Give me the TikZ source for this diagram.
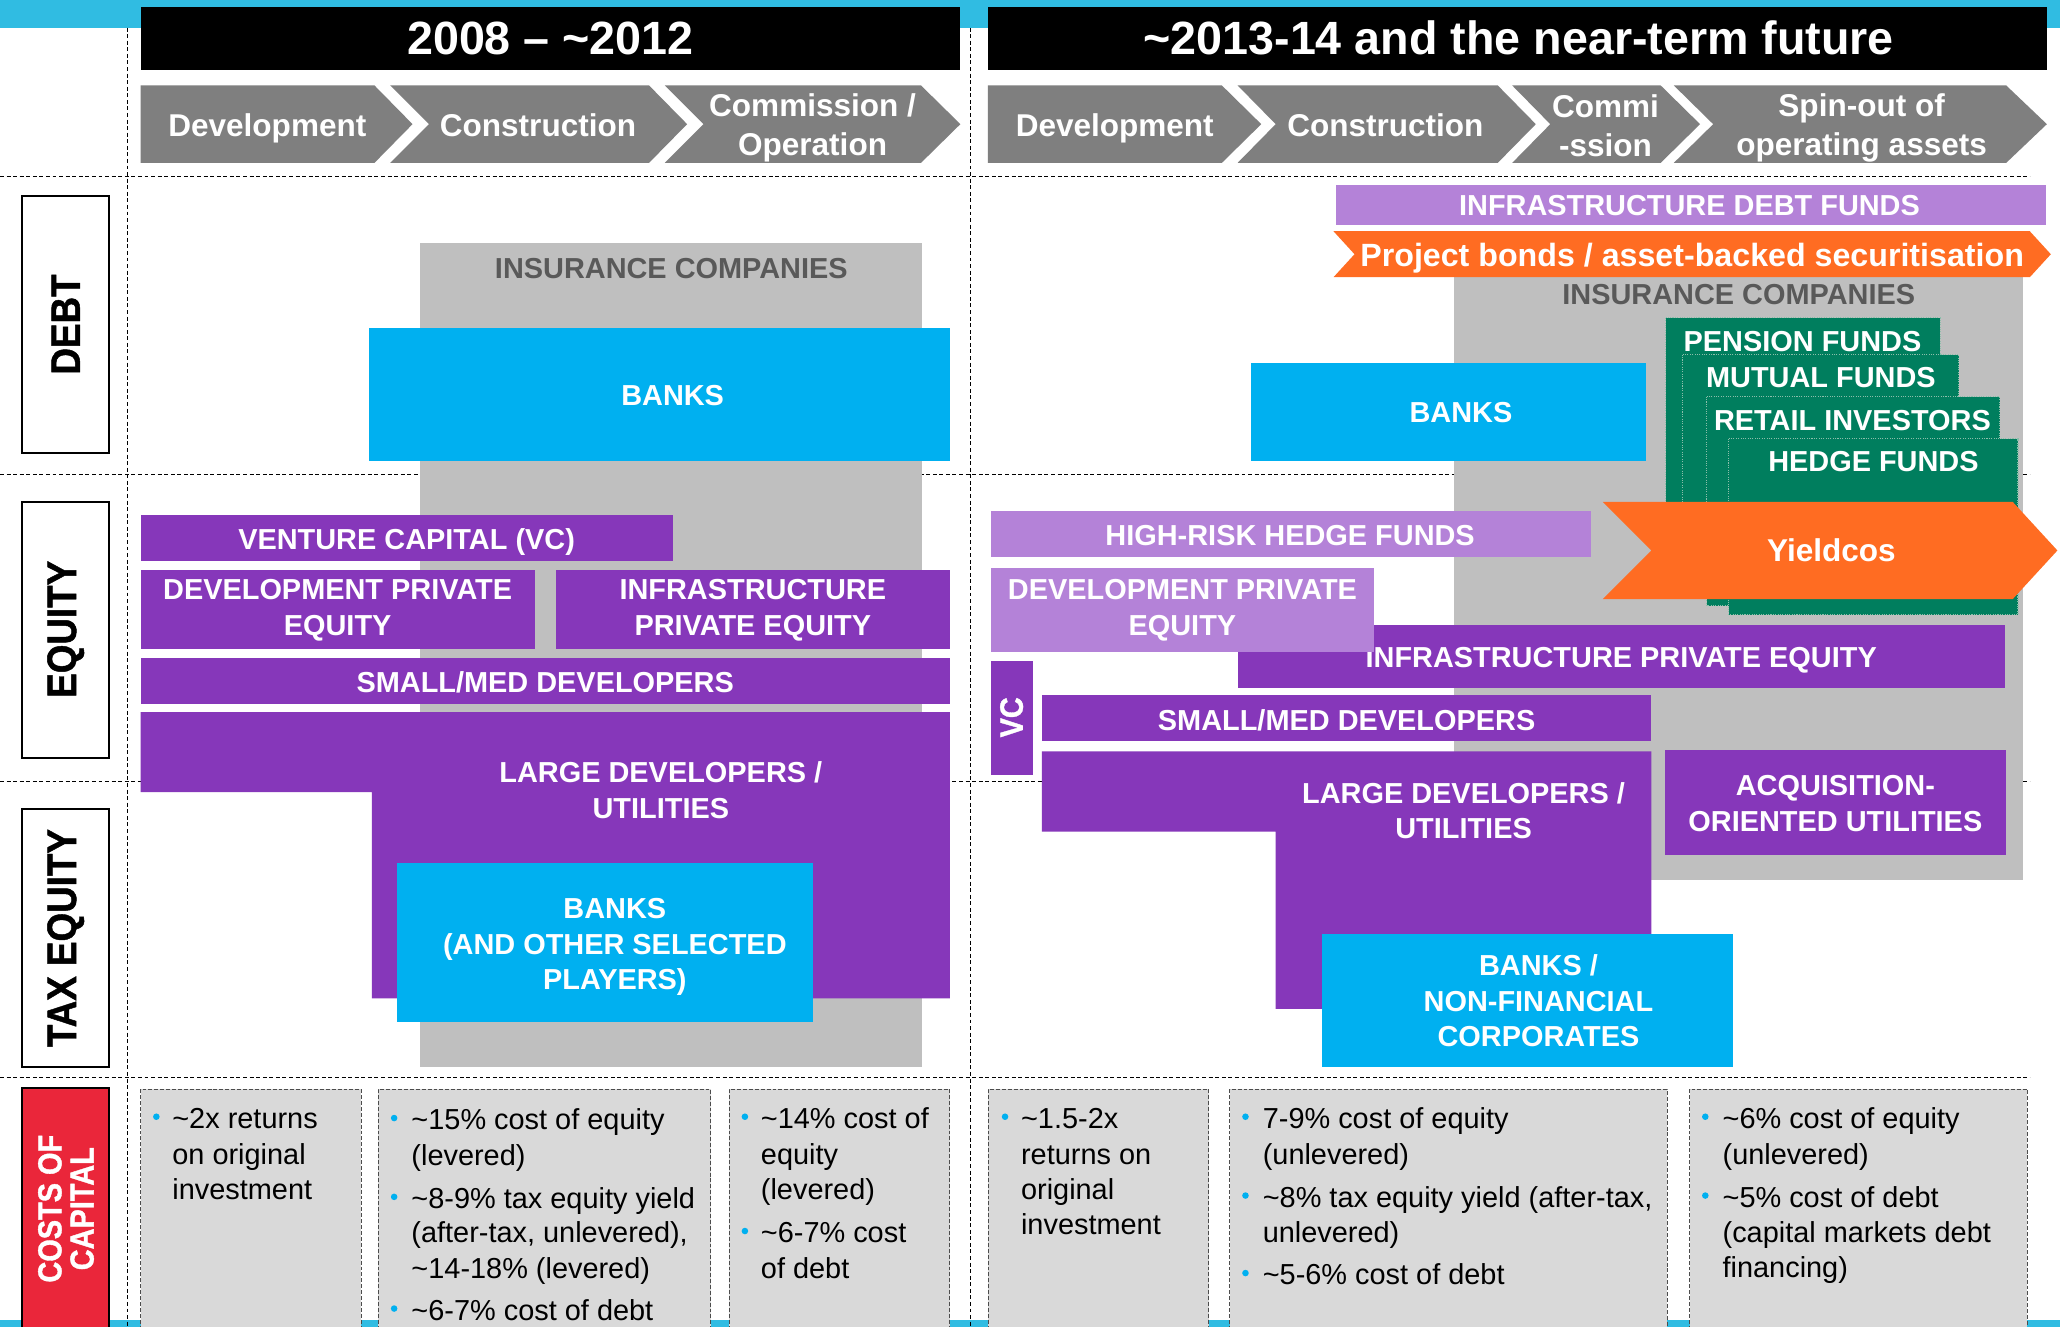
\documentclass[tikz,border=0pt]{standalone}
\usepackage{fontspec}
\setmainfont{Liberation Sans}
\newfontfamily\heavyfont[FakeBold=1.2]{Liberation Sans Bold}
\definecolor{cyanb}{RGB}{0,176,240}
\definecolor{purp}{RGB}{134,55,186}
\definecolor{lpurp}{RGB}{180,130,216}
\definecolor{orng}{RGB}{255,108,34}
\definecolor{grnb}{RGB}{0,126,94}
\definecolor{grnline}{RGB}{140,190,170}
\definecolor{greyb}{RGB}{191,191,191}
\definecolor{chevg}{RGB}{127,127,127}
\definecolor{costg}{RGB}{217,217,217}
\definecolor{topcyan}{RGB}{48,188,226}
\definecolor{redb}{RGB}{234,38,58}
\definecolor{darkt}{RGB}{89,89,89}
\newcommand\tld{\textasciitilde}
\newcommand\costl[4]{\node[costtxt] (#1) at (#2,#3+8) {#4};}
\newcommand\bult[2]{\fill[cyanb] (#1,#2-1) circle (2.5);}
\begin{document}
\begin{tikzpicture}[x=1pt,y=-1pt,
 lbl/.style={text=white,font=\bfseries\fontsize{22}{27}\selectfont,align=center,inner sep=0pt},
 hdr/.style={text=white,font=\bfseries\fontsize{35.5}{40}\selectfont,inner sep=0pt},
 chevt/.style={text=white,font=\bfseries\fontsize{24}{30}\selectfont,align=center,inner sep=0pt},
 rowlbl/.style={rotate=90,font=\heavyfont\fontsize{28}{30}\selectfont,inner sep=0pt},
 costtxt/.style={font=\fontsize{22}{27}\selectfont,anchor=base west,inner sep=0pt},
 gridl/.style={dash pattern=on 3pt off 2pt,line width=0.8pt},
 costbox/.style={draw=black!70,dash pattern=on 3pt off 1.5pt,line width=0.6pt},
 rowbox/.style={draw=black,fill=white,line width=1.5pt},
 grnbox/.style={fill=grnb,draw=grnline,densely dotted,line width=0.8pt}]
\useasboundingbox (0,0) rectangle (1568,1010);
\fill[white] (0,0) rectangle (1568,1010);
\fill[topcyan] (0,0) rectangle (1568,21);
\fill[topcyan] (0,1005) rectangle (1568,1010);
% grid
\draw[gridl] (0,134) -- (1545,134);
\draw[gridl] (0,361) -- (1545,361);
\draw[gridl] (0,595) -- (1545,595);
\draw[gridl] (0,820) -- (1545,820);
\draw[gridl] (97,21) -- (97,1010);
\draw[gridl] (739,21) -- (739,1010);
% headers
\fill[black] (107,5) rectangle (731,53);
\node[hdr,anchor=base] (h1) at (419,41.7) {2008 \textendash{} \tld2012};
\fill[black] (752,5) rectangle (1558,53);
\node[hdr,anchor=base] (h2) at (1156,41.7) {\tld2013-14 and the near-term future};
% chevrons period 1
\fill[chevg] (107,65) -- (285,65) -- (314,94.5) -- (285,124) -- (107,124) -- cycle;
\node[chevt,anchor=base] (c1) at (203.5,103.6) {Development};
\fill[chevg] (297,65) -- (494,65) -- (523,94.5) -- (494,124) -- (297,124) -- (326.5,94.5) -- cycle;
\node[chevt,anchor=base] (c2) at (409.5,103.6) {Construction};
\fill[chevg] (506,65) -- (701,65) -- (731,94.5) -- (701,124) -- (506,124) -- (535.5,94.5) -- cycle;
\node[chevt] (c3) at (618.5,97.3) {Commission /\\Operation};
% chevrons period 2
\fill[chevg] (752,65) -- (930,65) -- (960,94.5) -- (930,124) -- (752,124) -- cycle;
\node[chevt,anchor=base] (d1) at (848.5,103.6) {Development};
\fill[chevg] (942,65) -- (1140,65) -- (1169,94.5) -- (1140,124) -- (942,124) -- (971,94.5) -- cycle;
\node[chevt,anchor=base] (d2) at (1054.5,103.6) {Construction};
\fill[chevg] (1151,65) -- (1264,65) -- (1294,94.5) -- (1264,124) -- (1151,124) -- (1180,94.5) -- cycle;
\node[chevt] (d3) at (1222,95.5) {Commi\\-ssion};
\fill[chevg] (1274,65) -- (1527,65) -- (1558,94.5) -- (1527,124) -- (1274,124) -- (1304,94.5) -- cycle;
\node[chevt] (d4) at (1417,97.3) {Spin-out of\\operating assets};
% row labels
\draw[rowbox] (17,149) rectangle (83,345);
\node[rowlbl] (rdebt) at (50,247) {\scalebox{1}[1.12]{DEBT}};
\draw[rowbox] (17,382) rectangle (83,577);
\node[rowlbl] (requity) at (50,479) {\scalebox{1}[1.12]{EQUITY}};
\draw[rowbox] (17,616) rectangle (83,812);
\node[rowlbl] (rtax) at (50,714) {\scalebox{1}[1.12]{TAX EQUITY}};
\fill[redb] (17,828) rectangle (83,1010);
\draw[line width=1.5pt] (17,1010) -- (17,828) -- (83,828) -- (83,1010);
\node[rowlbl,text=white,font=\heavyfont\fontsize{22}{24}\selectfont] (rcost1) at (38,920) {\scalebox{1}[1.15]{COSTS OF}};
\node[rowlbl,text=white,font=\heavyfont\fontsize{22}{24}\selectfont] (rcost2) at (62.5,920) {\scalebox{1}[1.15]{CAPITAL}};
% ---------- period 1 ----------
\fill[greyb] (320,185) rectangle (702,812);
\node[lbl,text=darkt,anchor=base] (ins1) at (511,211.9) {INSURANCE COMPANIES};
\fill[cyanb] (281,250) rectangle (723,351);
\node[lbl,anchor=base] (bank1) at (512,308.9) {BANKS};
\fill[purp] (107,392) rectangle (512,427);
\node[lbl,anchor=base] (vc1) at (309.5,417.9) {VENTURE CAPITAL (VC)};
\fill[purp] (107,434) rectangle (407,494);
\node[lbl] (dpe1) at (257,464.5) {DEVELOPMENT PRIVATE\\EQUITY};
\fill[purp] (423,434) rectangle (723,494);
\node[lbl] (ipe1) at (573,464.5) {INFRASTRUCTURE\\PRIVATE EQUITY};
\fill[purp] (107,501) rectangle (723,536);
\node[lbl,anchor=base] (smd1) at (415,526.9) {SMALL/MED DEVELOPERS};
\fill[purp] (107,542) -- (723,542) -- (723,760) -- (283,760) -- (283,603) -- (107,603) -- cycle;
\node[lbl] (ld1) at (503,601.5) {LARGE DEVELOPERS /\\UTILITIES};
\fill[cyanb] (302,657) rectangle (619,778);
\node[lbl] (bt1) at (468,721) {BANKS\\(AND OTHER SELECTED\\PLAYERS)};
% ---------- period 2 ----------
\fill[greyb] (1107,211) rectangle (1540,670);
\fill[lpurp] (1017,141) rectangle (1557,171);
\node[lbl,anchor=base] (idf) at (1286,163.9) {INFRASTRUCTURE DEBT FUNDS};
\fill[orng] (1015,176) -- (1545,176) -- (1561,193.5) -- (1545,211) -- (1015,211) -- (1031,193.5) -- cycle;
\node[lbl,anchor=base,font=\bfseries\fontsize{24.5}{27}\selectfont] (pb) at (1288,202.8) {Project bonds / asset-backed securitisation};
\node[lbl,text=darkt,anchor=base] (ins2) at (1323.5,231.9) {INSURANCE COMPANIES};
\fill[cyanb] (952,276) rectangle (1253,351);
\node[lbl,anchor=base] (bank2) at (1112,321.9) {BANKS};
\filldraw[grnbox] (1268,242) rectangle (1477,440);
\node[lbl,anchor=base] (pf) at (1372,267.9) {PENSION FUNDS};
\filldraw[grnbox] (1281,270) rectangle (1491,450);
\node[lbl,anchor=base] (mf) at (1386,294.9) {MUTUAL FUNDS};
\filldraw[grnbox] (1299,302) rectangle (1522,461);
\node[lbl,anchor=base] (ri) at (1410,327.9) {RETAIL INVESTORS};
\filldraw[grnbox] (1316,334) rectangle (1536,468);
\node[lbl,anchor=base] (hf) at (1426,358.9) {HEDGE FUNDS};
\fill[orng] (1220,382) -- (1532,382) -- (1566,419) -- (1532,456) -- (1220,456) -- (1257,419) -- cycle;
\node[lbl,anchor=base,font=\bfseries\fontsize{24}{27}\selectfont] (yc) at (1394,427.6) {Yieldcos};
\fill[lpurp] (754,389) rectangle (1211,424);
\node[lbl,anchor=base] (hr) at (982,414.9) {HIGH-RISK HEDGE FUNDS};
\fill[purp] (942,476) rectangle (1526,524);
\node[lbl,anchor=base] (ipe2) at (1234,507.9) {INFRASTRUCTURE PRIVATE EQUITY};
\fill[lpurp] (754,432) rectangle (1046,496);
\node[lbl] (dpe2) at (900,464.5) {DEVELOPMENT PRIVATE\\EQUITY};
\fill[purp] (754,503) rectangle (786,590);
\node[rowlbl,text=white,font=\heavyfont\fontsize{22}{24}\selectfont] (vc2) at (770,546) {\scalebox{1}[1.12]{VC}};
\fill[purp] (793,529) rectangle (1257,564);
\node[lbl,anchor=base] (smd2) at (1025,555.9) {SMALL/MED DEVELOPERS};
\fill[purp] (793,572) -- (1257,572) -- (1257,768) -- (971,768) -- (971,633) -- (793,633) -- cycle;
\node[lbl] (ld2) at (1114,617) {LARGE DEVELOPERS /\\UTILITIES};
\fill[purp] (1267,571) rectangle (1527,651);
\node[lbl] (aou) at (1397,611.5) {ACQUISITION-\\ORIENTED UTILITIES};
\fill[cyanb] (1006,711) rectangle (1319,812);
\node[lbl] (bnf) at (1171,762) {BANKS /\\NON-FINANCIAL\\CORPORATES};
% ---------- costs of capital ----------
\foreach \a/\b in {107/275,288/541,555/723,752/920,936/1269,1286/1543}{
  \fill[costg] (\a,829) rectangle (\b,1010);
  \draw[costbox] (\a,1012) -- (\a,829) -- (\b,829) -- (\b,1012);
}
% box 1
\bult{119}{851}
\costl{k1a}{131}{851}{\tld2x returns}
\costl{k1b}{131}{878}{on original}
\costl{k1c}{131}{905}{investment}
% box 2
\bult{300}{852}
\costl{k2a}{313}{852}{\tld15\% cost of equity}
\costl{k2b}{313}{879}{(levered)}
\bult{300}{912}
\costl{k2c}{313}{912}{\tld8-9\% tax equity yield}
\costl{k2d}{313}{938}{(after-tax, unlevered),}
\costl{k2e}{313}{965}{\tld14-18\% (levered)}
\bult{300}{997}
\costl{k2f}{313}{997}{\tld6-7\% cost of debt}
% box 3
\bult{567}{851}
\costl{k3a}{579}{851}{\tld14\% cost of}
\costl{k3b}{579}{878}{equity}
\costl{k3c}{579}{905}{(levered)}
\bult{567}{938}
\costl{k3d}{579}{938}{\tld6-7\% cost}
\costl{k3e}{579}{965}{of debt}
% box 4
\bult{765}{851}
\costl{k4a}{777}{851}{\tld1.5-2x}
\costl{k4b}{777}{878}{returns on}
\costl{k4c}{777}{905}{original}
\costl{k4d}{777}{932}{investment}
% box 5
\bult{948}{851}
\costl{k5a}{961}{851}{7-9\% cost of equity}
\costl{k5b}{961}{878}{(unlevered)}
\bult{948}{911}
\costl{k5c}{961}{911}{\tld8\% tax equity yield (after-tax,}
\costl{k5d}{961}{938}{unlevered)}
\bult{948}{970}
\costl{k5e}{961}{970}{\tld5-6\% cost of debt}
% box 6
\bult{1298}{851}
\costl{k6a}{1311}{851}{\tld6\% cost of equity}
\costl{k6b}{1311}{878}{(unlevered)}
\bult{1298}{911}
\costl{k6c}{1311}{911}{\tld5\% cost of debt}
\costl{k6d}{1311}{938}{(capital markets debt}
\costl{k6e}{1311}{964}{financing)}
\end{tikzpicture}
\end{document}
